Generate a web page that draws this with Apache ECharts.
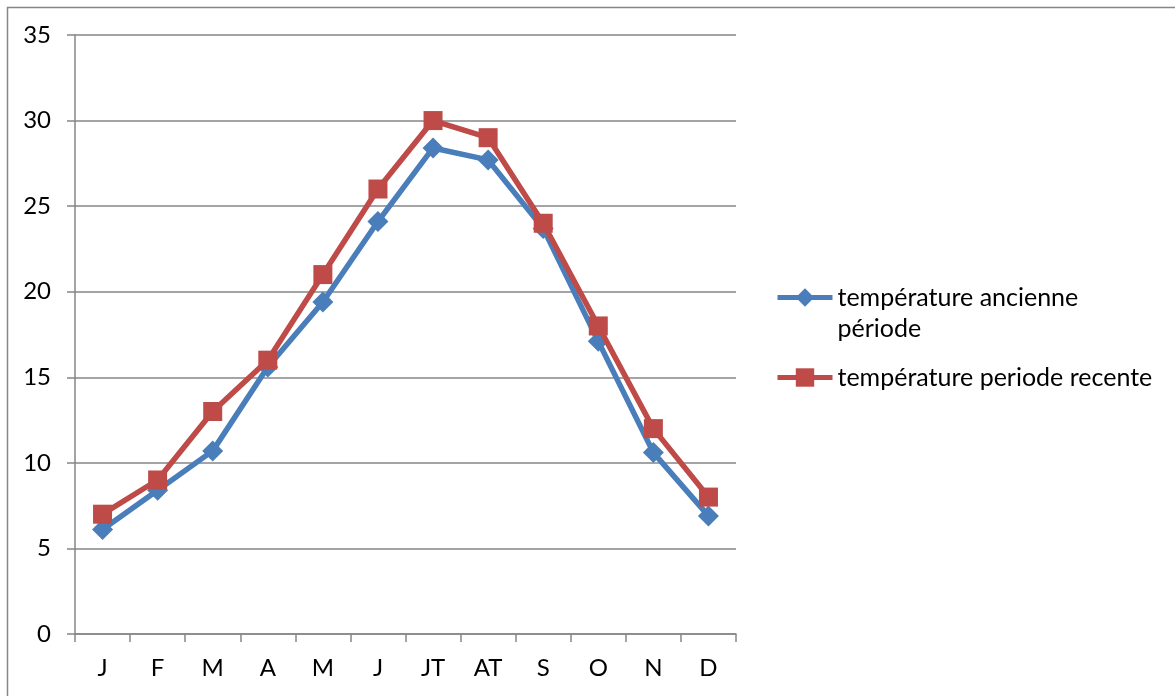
<!DOCTYPE html>
<html>
<head>
<meta charset="utf-8">
<script src="https://cdn.jsdelivr.net/npm/echarts@6/dist/echarts.min.js"></script>
<style>
  html, body { margin: 0; padding: 0; background: #fff; }
  #chart { width: 1175px; height: 696px; }
</style>
</head>
<body>
<div id="chart"></div>
<script>
// Monthly temperatures (°C) for two periods
const months = ['J', 'F', 'M', 'A', 'M', 'J', 'JT', 'AT', 'S', 'O', 'N', 'D'];
const ancienne = [6.1, 8.4, 10.7, 15.6, 19.4, 24.1, 28.4, 27.7, 23.7, 17.1, 10.6, 6.9];
const recente = [7, 9, 13, 16, 21, 26, 30, 29, 24, 18, 12, 8];
const nameAncienne = 'température ancienne période';
const nameRecente = 'température periode recente';

const FONT = 'Lato, "Noto Sans", sans-serif';
const GREY = '#868686';
const BLUE = '#4A7EBB';
const RED = '#BE4B48';

const chart = echarts.init(document.getElementById('chart'), null, { renderer: 'canvas' });

const legendText = { fontFamily: FONT, fontSize: 25, color: '#000', lineHeight: 31 };

chart.setOption({
  animation: false,
  backgroundColor: '#fff',
  grid: { left: 75, right: 439, top: 35, bottom: 62, containLabel: false },
  graphic: [{
    type: 'rect',
    shape: { x: 7.5, y: 7.5, width: 1200, height: 720 },
    style: { fill: 'none', stroke: GREY, lineWidth: 1.5 },
    silent: true
  }],
  legend: [{
    // first item wraps onto two lines; the leading blank line keeps
    // the icon level with the first line of text
    orient: 'vertical',
    left: 775,
    top: 251,
    padding: 0,
    itemWidth: 55,
    itemHeight: 23,
    lineStyle: { width: 5 },
    data: [nameAncienne],
    formatter: () => '\ntempérature ancienne\npériode',
    textStyle: legendText
  }, {
    orient: 'vertical',
    left: 775,
    top: 362,
    padding: 0,
    itemWidth: 55,
    itemHeight: 23,
    lineStyle: { width: 5 },
    data: [nameRecente],
    textStyle: legendText
  }],
  xAxis: {
    type: 'category',
    data: months,
    boundaryGap: true,
    axisLine: { show: true, lineStyle: { color: GREY, width: 1.5 } },
    axisTick: { show: true, alignWithLabel: false, length: 8, lineStyle: { color: GREY, width: 1.5 } },
    axisLabel: { margin: 22, fontFamily: FONT, fontSize: 24, color: '#000' },
    splitLine: { show: false }
  },
  yAxis: {
    type: 'value',
    min: 0,
    max: 35,
    interval: 5,
    axisLine: { show: true, lineStyle: { color: GREY, width: 1.5 } },
    axisTick: { show: true, length: 8, lineStyle: { color: GREY, width: 1.5 } },
    axisLabel: { margin: 24, fontFamily: FONT, fontSize: 24, color: '#000' },
    splitLine: { show: true, lineStyle: { color: GREY, width: 1.5 } }
  },
  series: [{
    name: nameAncienne,
    type: 'line',
    data: ancienne,
    symbol: 'diamond',
    symbolSize: 21,
    lineStyle: { color: BLUE, width: 5.5 },
    itemStyle: { color: BLUE },
    z: 2
  }, {
    name: nameRecente,
    type: 'line',
    data: recente,
    symbol: 'rect',
    symbolSize: 19,
    lineStyle: { color: RED, width: 5.5 },
    itemStyle: { color: RED },
    z: 3
  }]
});
</script>
</body>
</html>
